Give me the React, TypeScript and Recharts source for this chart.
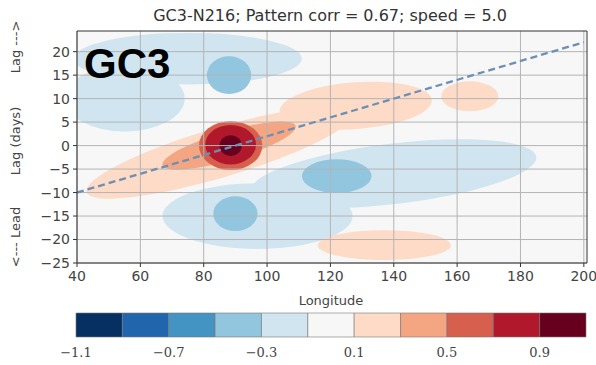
import { ComposedChart, XAxis, YAxis, Line, ReferenceArea, ReferenceLine } from 'recharts'

// axes
const lonTicks = [40, 60, 80, 100, 120, 140, 160, 180, 200]
const lagTicks = [-25, -20, -15, -10, -5, 0, 5, 10, 15, 20]

// colour levels (RdBu_r, 11 classes)
const levelBounds = [-1.1, -0.9, -0.7, -0.5, -0.3, -0.1, 0.1, 0.3, 0.5, 0.7, 0.9, 1.1]
const levelColors = [
  '#053061', '#2166ac', '#4393c3', '#92c5de', '#d1e5f0', '#f7f7f7',
  '#fddbc7', '#f4a582', '#d6604d', '#b2182b', '#67001f',
]
const cbTicks = [-1.1, -0.7, -0.3, 0.1, 0.5, 0.9]

// contour regions: centre (lon, lag), half extents, tilt (days per degree)
const negLevel1 = [
  { lon: 75, lag: 18.5, rx: 36, ry: 5.5, tilt: 0 },
  { lon: 55, lag: 10, rx: 19, ry: 7, tilt: 0 },
  { lon: 140, lag: -6, rx: 45, ry: 6.5, tilt: 0.08 },
  { lon: 97, lag: -15, rx: 30, ry: 7, tilt: 0 },
]
const posLevel1 = [
  { lon: 85, lag: -1.5, rx: 42, ry: 5.5, tilt: 0.2 },
  { lon: 128, lag: 8.5, rx: 24, ry: 5, tilt: 0.05 },
  { lon: 164, lag: 10.5, rx: 9, ry: 3.2, tilt: 0 },
  { lon: 137, lag: -21.2, rx: 21, ry: 3.2, tilt: 0 },
]
const negLevel2 = [
  { lon: 88, lag: 15, rx: 7, ry: 4, tilt: 0 },
  { lon: 90, lag: -14.5, rx: 7, ry: 3.7, tilt: 0 },
  { lon: 122, lag: -6.5, rx: 11, ry: 3.6, tilt: 0 },
]
const posLevel2 = [{ lon: 88, lag: 0, rx: 21, ry: 3.2, tilt: 0.2 }]
const posLevel3 = [{ lon: 88.5, lag: 0, rx: 10, ry: 5.2, tilt: 0 }]
const posLevel4 = [{ lon: 88.5, lag: 0.2, rx: 8, ry: 4.2, tilt: 0 }]
const posLevel5 = [{ lon: 88.5, lag: 0, rx: 3.5, ry: 2.2, tilt: 0 }]

// phase speed line (5 m/s)
const speedLine = [
  { lon: 40, lag: -10 },
  { lon: 200, lag: 22 },
]

const layers = [
  { level: 4, blobs: negLevel1 },
  { level: 6, blobs: posLevel1 },
  { level: 3, blobs: negLevel2 },
  { level: 7, blobs: posLevel2 },
  { level: 8, blobs: posLevel3 },
  { level: 9, blobs: posLevel4 },
  { level: 10, blobs: posLevel5 },
]

// colour bar segments built from the level arrays
const cbData = levelColors.map((c, i) => ({ lo: levelBounds[i], hi: levelBounds[i + 1], color: c, y: 0.5 }))

type Blob = { lon: number; lag: number; rx: number; ry: number; tilt: number }

const ellipseShape = (b: Blob, color: string) => (props: any) => {
  const { x, y, width, height, clipPath } = props
  const cx = x + width / 2
  const cy = y + height / 2
  const sx = width / (2 * b.rx)
  const sy = height / (2 * b.ry)
  const theta = Math.atan((b.tilt * sy) / sx)
  const a = width / 2 / Math.cos(theta)
  const c = (height / 2) * Math.cos(theta)
  return (
    <ellipse
      cx={cx}
      cy={cy}
      rx={a}
      ry={c}
      fill={color}
      clipPath={clipPath}
      transform={`rotate(${(-theta * 180) / Math.PI} ${cx} ${cy})`}
    />
  )
}

const FONT = '"DejaVu Sans", sans-serif'
const fmt = (v: number) => String(v).replace('-', '\u2212')

export default function App() {
  const yTop = 24.4
  const xRight = 201
  return (
    <div style={{ position: 'absolute', left: 0, top: 0, width: 596, height: 365, background: '#fff' }}>
      <div style={{ position: 'absolute', left: 0, top: 0 }}>
        <ComposedChart width={596} height={318} margin={{ top: 31, right: 9, left: 0, bottom: 18 }}>
          <XAxis
            type="number"
            dataKey="lon"
            domain={[40, xRight]}
            ticks={lonTicks}
            allowDataOverflow
            height={37}
            stroke="#333"
            tickSize={4}
            tickMargin={4}
            tick={{ fill: '#444', fontSize: 14, fontFamily: FONT }}
          />
          <YAxis
            type="number"
            dataKey="lag"
            domain={[-25, yTop]}
            ticks={lagTicks}
            allowDataOverflow
            width={77}
            stroke="#333"
            tickSize={4}
            tickMargin={3}
            tick={{ fill: '#444', fontSize: 14, fontFamily: FONT }}
            tickFormatter={fmt}
          />
          <ReferenceArea x1={40} x2={xRight} y1={-25} y2={yTop} fill={levelColors[5]} fillOpacity={1} stroke="none" />
          {layers.map((layer) =>
            layer.blobs.map((b, i) => (
              <ReferenceArea
                key={`${layer.level}-${i}`}
                x1={b.lon - b.rx}
                x2={b.lon + b.rx}
                y1={b.lag - b.ry}
                y2={b.lag + b.ry}
                ifOverflow="hidden"
                shape={ellipseShape(b, levelColors[layer.level])}
              />
            ))
          )}
          {lonTicks.map((t) => (
            <ReferenceLine key={`vx${t}`} x={t} stroke="#b4b4b4" strokeWidth={1} />
          ))}
          {lagTicks.map((t) => (
            <ReferenceLine key={`hy${t}`} y={t} stroke="#b4b4b4" strokeWidth={1} />
          ))}
          <ReferenceLine x={xRight} stroke="#333" strokeWidth={1} />
          <ReferenceLine y={yTop} stroke="#333" strokeWidth={1} />
          <Line
            data={speedLine}
            dataKey="lag"
            stroke="#6b8fb5"
            strokeWidth={2.3}
            strokeDasharray="7 4"
            dot={false}
            isAnimationActive={false}
          />
        </ComposedChart>
      </div>

      <div style={{ position: 'absolute', left: 0, top: 300 }}>
        <ComposedChart width={596} height={65} data={cbData} margin={{ top: 13, right: 10, left: 76, bottom: 0 }}>
          <XAxis
            type="number"
            dataKey="lo"
            domain={[-1.1, 1.1]}
            ticks={cbTicks}
            allowDataOverflow
            height={28}
            axisLine={false}
            tickLine={false}
            tickMargin={5}
            tick={{ fill: '#444', fontSize: 13, fontFamily: '"DejaVu Serif", serif' }}
            tickFormatter={fmt}
          />
          <YAxis type="number" dataKey="y" domain={[0, 1]} hide />
          {cbData.map((d) => (
            <ReferenceArea
              key={d.color}
              x1={d.lo}
              x2={d.hi}
              y1={0}
              y2={1}
              fill={d.color}
              fillOpacity={1}
              stroke="#777"
              strokeWidth={0.6}
            />
          ))}
          <Line dataKey="y" stroke="none" dot={false} activeDot={false} isAnimationActive={false} />
        </ComposedChart>
      </div>

      <svg width={596} height={365} style={{ position: 'absolute', left: 0, top: 0, pointerEvents: 'none' }}>
        <text x={330} y={21} textAnchor="middle" fontSize={16} fontFamily={FONT} fill="#333">
          GC3-N216; Pattern corr = 0.67; speed = 5.0
        </text>
        <text x={84} y={78} fontSize={42} fontWeight="bold" fontFamily='"Liberation Sans", Arial, sans-serif' fill="#000">
          GC3
        </text>
        <g fontSize={13} fontFamily={FONT} fill="#444" textAnchor="middle">
          <text transform="translate(20 47) rotate(-90)">Lag ---&gt;</text>
          <text transform="translate(20 141) rotate(-90)">Lag (days)</text>
          <text transform="translate(20 237) rotate(-90)">&lt;--- Lead</text>
        </g>
        <text x={331} y={305} textAnchor="middle" fontSize={13} fontFamily={FONT} fill="#444">
          Longitude
        </text>
      </svg>
    </div>
  )
}
